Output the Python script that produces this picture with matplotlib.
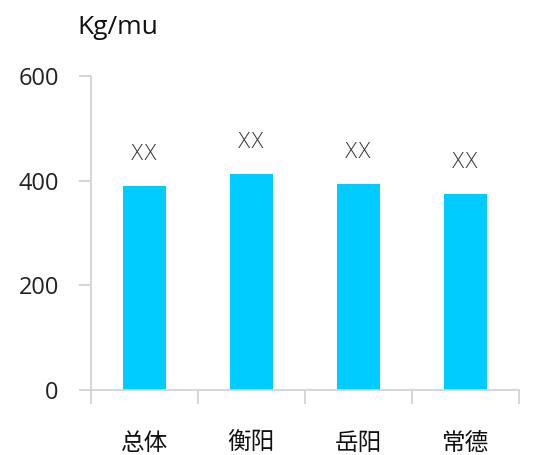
import matplotlib
matplotlib.use("Agg")
import matplotlib.pyplot as plt
import numpy as np

plt.rcParams['font.family'] = ['Noto Sans CJK SC', 'DejaVu Sans']

categories = ["总体", "衡阳", "岳阳", "常德"]
values = [390, 413, 394, 375]
bar_labels = ["XX", "XX", "XX", "XX"]
y_ticks = [0, 200, 400, 600]

fig = plt.figure(figsize=(5.34, 4.55), dpi=100)
ax = fig.add_axes([0.170, 0.143, 0.802, 0.690])

x = np.arange(len(categories))
bars = ax.bar(x, values, width=0.4, color="#00ccff", zorder=2)
for b, lab in zip(bars, bar_labels):
    ax.text(b.get_x() + b.get_width() / 2, b.get_height() + 60, lab,
            ha="center", va="center", fontsize=15, color="#333333",
            family=["DejaVu Sans"], fontweight="light")

ax.set_xlim(-0.5, len(categories) - 0.5)
ax.set_ylim(0, 600)
ax.set_yticks(y_ticks)
ax.set_yticklabels([str(t) for t in y_ticks], fontsize=17, color="#222222",
                   family=["Open Sans"])
ax.set_xticks(x)
ax.set_xticklabels(categories, fontsize=17, color="#111111")
ax.set_xticks(np.arange(len(categories) + 1) - 0.5, minor=True)
ax.tick_params(axis="x", which="major", length=0, pad=30)
ax.tick_params(axis="x", which="minor", length=10, color="#d0d0d0", width=1.2)
ax.tick_params(axis="y", length=9, color="#d0d0d0", width=1.2, pad=14)

for s in ["top", "right"]:
    ax.spines[s].set_visible(False)
for s in ["left", "bottom"]:
    ax.spines[s].set_color("#d0d0d0")
    ax.spines[s].set_linewidth(1.2)

fig.text(0.144, 0.94, "Kg/mu", fontsize=19, color="#111111",
         family=["Open Sans"], va="center")

fig.savefig("out.png", dpi=100)
